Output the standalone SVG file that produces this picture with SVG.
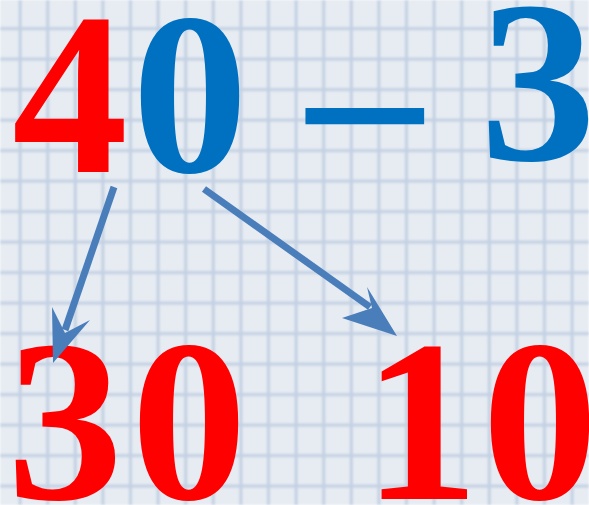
<svg xmlns="http://www.w3.org/2000/svg" width="589" height="505" viewBox="0 0 589 505">
  <defs>
    <pattern id="grid" x="6" y="13" width="27.6" height="30.5" patternUnits="userSpaceOnUse">
      <rect width="27.6" height="30.5" fill="#e7ecf3"/>
      <rect x="12.5" y="0" width="3.2" height="30.5" fill="#c4d1e3"/>
      <rect x="0" y="14" width="27.6" height="3.2" fill="#c4d1e3"/>
    </pattern>
    <filter id="soft" x="0" y="0" width="1" height="1">
      <feGaussianBlur stdDeviation="0.8"/>
    </filter>
    <style>
      .num { font-family: "Liberation Serif", "Times New Roman", serif; font-weight: bold; font-size: 232px; }
      .red { fill: #ff0000; }
      .blue { fill: #0070c0; }
      .arrow { stroke: #4a7ebb; stroke-width: 7; fill: none; }
      .head { fill: #4a7ebb; }
    </style>
  </defs>
  <rect width="589" height="505" fill="url(#grid)" filter="url(#soft)"/>
  <g id="expr">
    <text class="num" y="172"><tspan class="red" x="12">4</tspan><tspan class="blue" x="132">0</tspan></text>
    <text class="num blue" transform="translate(292,193) scale(1.1,1)" x="0" y="0">−</text>
    <text class="num blue" x="480" y="160">3</text>
  </g>
  <g id="n30">
    <text class="num red" y="499"><tspan x="7">3</tspan><tspan x="131">0</tspan></text>
  </g>
  <g id="n10">
    <text class="num red" y="499"><tspan x="363">1</tspan><tspan x="482">0</tspan></text>
  </g>
  <g id="connectors">
    <line class="arrow" x1="114" y1="187" x2="65" y2="330"/>
    <polygon class="head" points="53,363 52,307 65,333 90,320"/>
    <line class="arrow" x1="204" y1="189" x2="370" y2="307"/>
    <polygon class="head" points="397,336 367,287 372,308 342,318"/>
  </g>
</svg>
